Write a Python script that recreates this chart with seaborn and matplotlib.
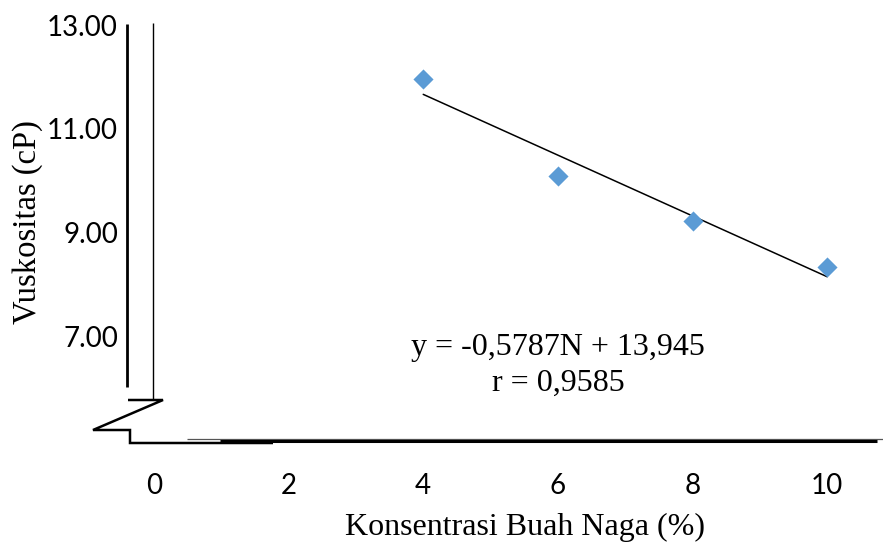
import matplotlib
matplotlib.use("Agg")
import matplotlib.pyplot as plt
from matplotlib.lines import Line2D
import seaborn as sns
import pandas as pd

# ---- data ----
konsentrasi = [4, 6, 8, 10]
viskositas = [11.96, 10.09, 9.23, 8.34]
x_ticks = [0, 2, 4, 6, 8, 10]
y_ticks = [7, 9, 11, 13]
y_ticklabels = ["7.00", "9.00", "11.00", "13.00"]
equation_text = "y = -0,5787N + 13,945"
r_text = "r = 0,9585"
x_label = "Konsentrasi Buah Naga (%)"
y_label = "Vuskositas (cP)"

df = pd.DataFrame({"x": konsentrasi, "y": viskositas})

sns.set_theme(style="white")
plt.rcParams["font.family"] = ["Lato", "DejaVu Sans"]
plt.rcParams["text.color"] = "black"
plt.rcParams["xtick.color"] = "black"
plt.rcParams["ytick.color"] = "black"
SERIF = ["Liberation Serif", "DejaVu Serif"]

W, H = 883, 546
fig = plt.figure(figsize=(W / 100, H / 100), dpi=100)

def fx(px):
    return px / W

def fy(py):
    return 1 - py / H

ax = fig.add_axes([fx(127), fy(440), fx(877) - fx(127), fy(25) - fy(440)])

sns.regplot(data=df, x="x", y="y", ax=ax, scatter=False, ci=None, truncate=True,
            line_kws={"color": "black", "linewidth": 1.1})
sns.scatterplot(data=df, x="x", y="y", ax=ax, marker="D", s=105, color="#5B9BD5",
                linewidth=0, zorder=5)

ax.set_xlim(-0.40, 10.74)
ax.set_ylim(5, 13)
ax.set_xticks(x_ticks)
ax.set_xticklabels([str(t) for t in x_ticks])
ax.set_yticks(y_ticks)
ax.set_yticklabels(y_ticklabels)
ax.tick_params(axis="x", length=0, pad=24, labelsize=20, labelcolor="black")
ax.tick_params(axis="y", length=0, pad=6.5, labelsize=20, labelcolor="black")
for s in ax.spines.values():
    s.set_visible(False)
ax.grid(False)
ax.set_xlabel("")
ax.set_ylabel("")

fig.text(fx(525), fy(527), x_label, ha="center", va="center", fontsize=23,
         family=SERIF, color="black")
fig.text(fx(28), fy(222), y_label, ha="center", va="center", rotation=90,
         fontsize=23.5, family=SERIF, color="black")

fig.text(fx(558), fy(347), equation_text, ha="center", va="center", fontsize=23,
         family=SERIF, color="black")
fig.text(fx(558), fy(383), r_text, ha="center", va="center", fontsize=23,
         family=SERIF, color="black")

# ---- axis decorations (broken axis drawing) ----
def seg(xs, ys, lw, color="black"):
    fig.add_artist(Line2D([fx(v) for v in xs], [fy(v) for v in ys], lw=lw,
                          color=color, solid_capstyle="butt", solid_joinstyle="miter"))

seg([127, 127], [24, 387], 2.0)
seg([153, 153], [23, 400], 1.0)
seg([128, 163, 93, 130, 130, 273], [400, 400, 430, 430, 443, 443], 1.8)
seg([187, 883], [439.3, 439.3], 0.9, color="#555555")
seg([220, 877], [441, 441], 2.2)

fig.savefig("out.png", dpi=100)
